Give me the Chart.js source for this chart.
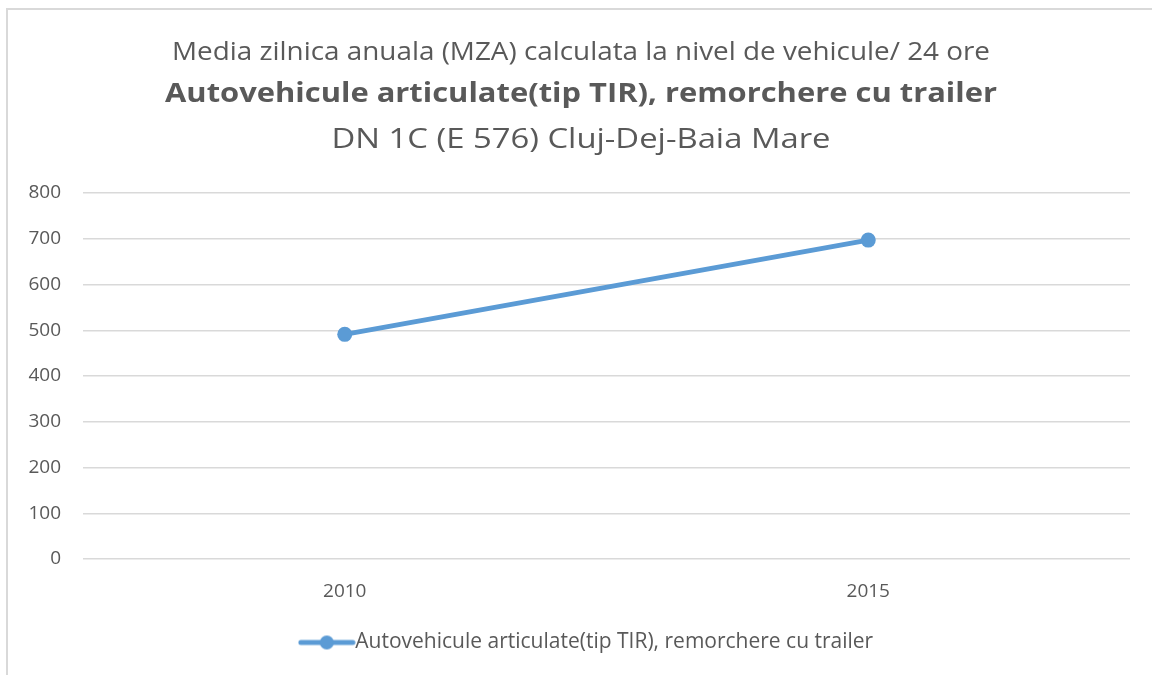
<!DOCTYPE html>
<html>
<head>
<meta charset="utf-8">
<script src="https://cdn.jsdelivr.net/npm/chart.js@4.4.0/dist/chart.umd.min.js"></script>
<style>
  html, body { margin: 0; padding: 0; background: #fff; }
  .frame {
    position: absolute; left: 6px; top: 8px; width: 1160px; height: 680px;
    border-left: 2px solid #d9d9d9; border-top: 2px solid #d9d9d9;
  }
  .chart-wrap { position: absolute; left: 0; top: 0; width: 1152px; height: 675px; }
</style>
</head>
<body>
<div class="frame"></div>
<div class="chart-wrap"><canvas id="chart-mza"></canvas></div>
<script>
const YEARS = ['2010', '2015'];
const TIR_VALUES = [491, 697];
const SERIES_LABEL = 'Autovehicule articulate(tip TIR), remorchere cu trailer';
const TITLE_LINES = [
  'Media zilnica anuala (MZA) calculata la nivel de vehicule/ 24 ore',
  'Autovehicule articulate(tip TIR), remorchere cu trailer',
  'DN 1C (E 576) Cluj-Dej-Baia Mare'
];
const Y_MAX = 800;
const Y_STEP = 100;

const BLUE = '#5b9bd5';
const TEXT = '#595959';
const FONT = '"Open Sans", Lato, sans-serif';

// three-line heading: plain / bold / plain, stretched a bit sideways like the original
const headingPlugin = {
  id: 'mzaHeading',
  afterLayout(chart) {
    // legend sits a little right of centre in the original
    if (chart.legend) {
      chart.legend.left += 26;
      chart.legend.right += 26;
    }
  },
  afterDraw(chart) {
    const { ctx } = chart;
    const cx = 581;
    const rows = [
      { text: TITLE_LINES[0], font: `400 25px ${FONT}`, y: 53, width: 818 },
      { text: TITLE_LINES[1], font: `700 26px ${FONT}`, y: 95, width: 832 },
      { text: TITLE_LINES[2], font: `400 27px ${FONT}`, y: 140, width: 499 }
    ];
    ctx.save();
    ctx.fillStyle = TEXT;
    ctx.textAlign = 'center';
    ctx.textBaseline = 'middle';
    rows.forEach((r) => {
      ctx.font = r.font;
      const sx = r.width / ctx.measureText(r.text).width;
      ctx.save();
      ctx.translate(cx, r.y);
      ctx.scale(sx, 1);
      ctx.fillText(r.text, 0, 0);
      ctx.restore();
    });
    ctx.restore();
  }
};

function legendMarker() {
  const c = document.createElement('canvas');
  c.width = 58;
  c.height = 16;
  const g = c.getContext('2d');
  g.strokeStyle = BLUE;
  g.lineWidth = 5;
  g.lineCap = 'round';
  g.beginPath();
  g.moveTo(3, 8);
  g.lineTo(55, 8);
  g.stroke();
  g.fillStyle = BLUE;
  g.beginPath();
  g.arc(29, 8, 7, 0, Math.PI * 2);
  g.fill();
  return c;
}

const marker = legendMarker();

new Chart(document.getElementById('chart-mza'), {
  type: 'line',
  data: {
    labels: YEARS,
    datasets: [{
      label: SERIES_LABEL,
      data: TIR_VALUES,
      borderColor: BLUE,
      backgroundColor: BLUE,
      borderWidth: 5,
      pointRadius: 7.5,
      pointHoverRadius: 7.5,
      pointBackgroundColor: BLUE,
      pointBorderWidth: 0,
      pointStyle: 'circle',
      tension: 0
    }]
  },
  options: {
    responsive: true,
    maintainAspectRatio: false,
    animation: false,
    layout: { padding: { top: 193, right: 22, bottom: 12, left: 0 } },
    plugins: {
      title: { display: false },
      tooltip: { enabled: false },
      legend: {
        position: 'bottom',
        labels: {
          color: TEXT,
          font: { family: FONT, size: 21 },
          usePointStyle: true,
          pointStyleWidth: 36,
          padding: 12,
          generateLabels: () => [{
            text: SERIES_LABEL,
            fillStyle: BLUE,
            strokeStyle: BLUE,
            lineWidth: 0,
            pointStyle: marker,
            datasetIndex: 0,
            fontColor: TEXT
          }]
        }
      }
    },
    scales: {
      x: {
        offset: true,
        grid: { display: false },
        border: { display: false },
        ticks: { color: TEXT, font: { family: FONT, size: 19 }, padding: 13 },
        afterFit: (s) => { s.height = 61; }
      },
      y: {
        min: 0,
        max: Y_MAX,
        ticks: { stepSize: Y_STEP, color: TEXT, font: { family: FONT, size: 19 }, padding: 22 },
        grid: { color: '#d9d9d9', lineWidth: 1.5, drawTicks: false },
        border: { display: false },
        afterFit: (s) => { s.width = 83; }
      }
    }
  },
  plugins: [headingPlugin]
});
</script>
</body>
</html>
